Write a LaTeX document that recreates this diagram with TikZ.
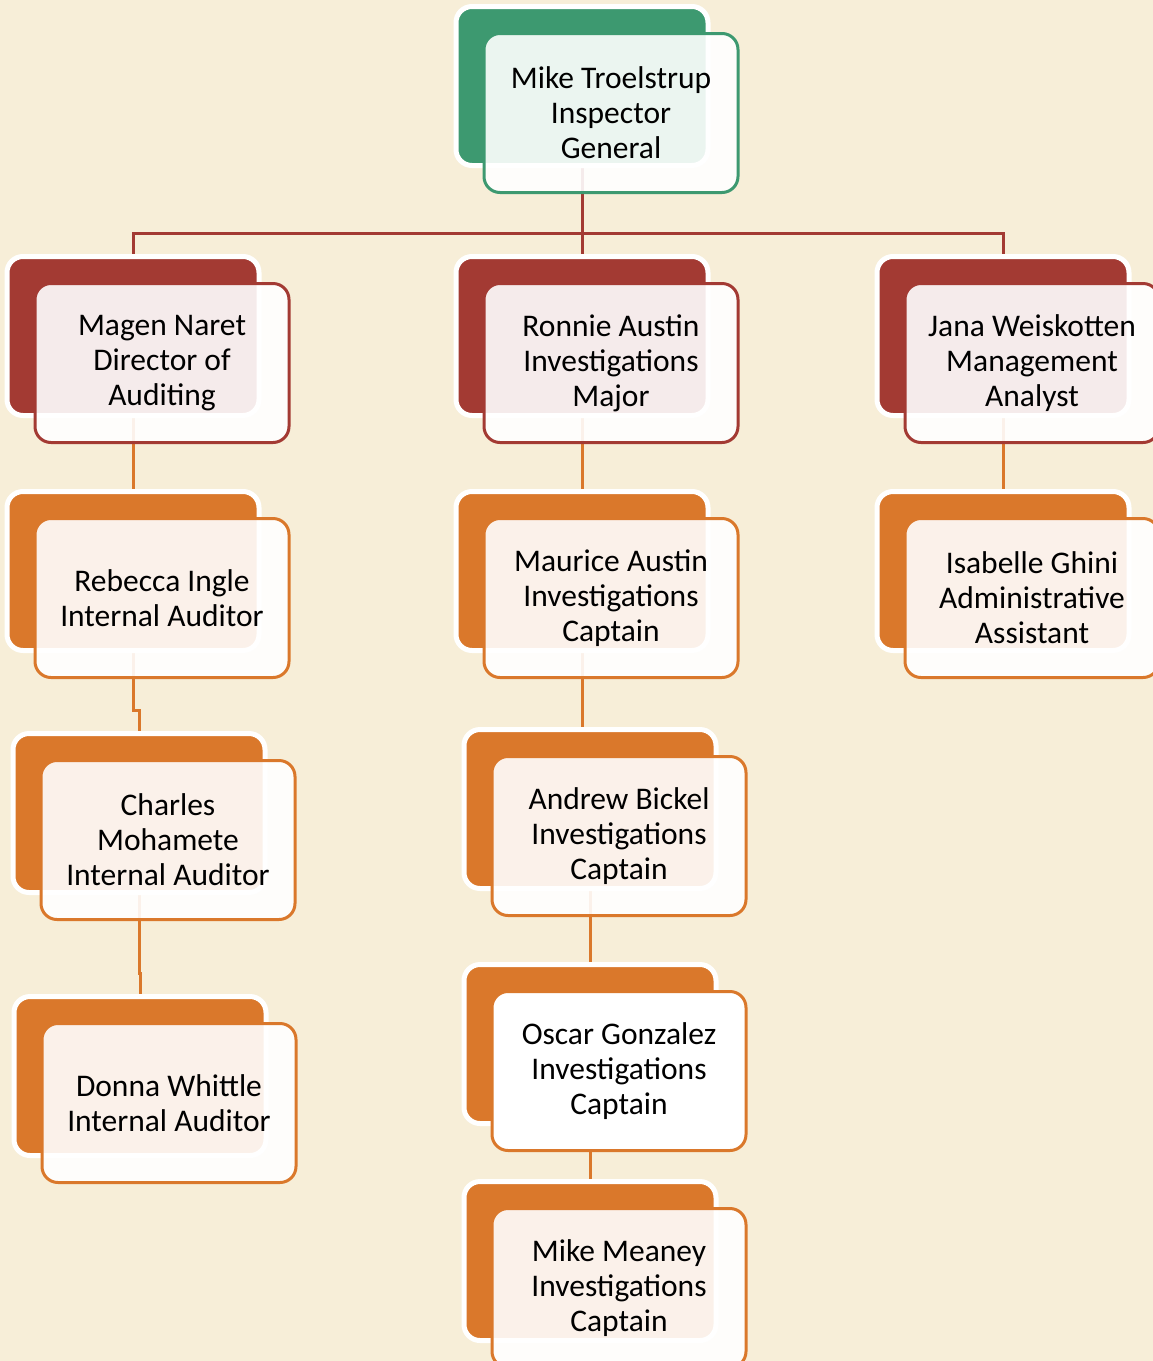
\documentclass[tikz,border=0pt]{standalone}
\usepackage{fontspec}
\setmainfont{Carlito}
\usetikzlibrary{positioning,backgrounds}
\definecolor{paper}{RGB}{247,238,216}
\definecolor{topcolor}{RGB}{61,153,112}
\definecolor{leadcolor}{RGB}{163,58,51}
\definecolor{staffcolor}{RGB}{218,120,43}

\begin{document}
\begin{tikzpicture}[
    x=1pt, y=-1pt,
    back/.style={rectangle, rounded corners=16pt, draw=white, line width=5pt, fill=#1, minimum width=252pt, minimum height=159pt},
    front/.style={rectangle, rounded corners=16pt, draw=#1, line width=3pt, fill=white, fill opacity=0.9, text opacity=1, minimum width=254pt, minimum height=159pt, align=center, font=\fontsize{31.5}{35}\selectfont, xshift=29pt, yshift=-27pt},
    link/.style={draw=#1, line width=3pt}
]
\useasboundingbox (0,0) rectangle (1153,1361);

% Top: Inspector General
\node[back=topcolor] (topB) at (582,86) {};
\node[front=topcolor] (topF) at (topB) {Mike Troelstrup\\Inspector\\General};

% Second row
\node[back=leadcolor] (magB) at (133,336) {};
\node[front=leadcolor] (magF) at (magB) {Magen Naret\\Director of\\Auditing};
\node[back=leadcolor] (ronB) at (582,336) {};
\node[front=leadcolor] (ronF) at (ronB) {Ronnie Austin\\Investigations\\Major};
\node[back=leadcolor] (janB) at (1003,336) {};
\node[front=leadcolor] (janF) at (janB) {Jana Weiskotten\\Management\\Analyst};

% Third row
\node[back=staffcolor] (rebB) at (133,571) {};
\node[front=staffcolor] (rebF) at (rebB) {Rebecca Ingle\\Internal Auditor};
\node[back=staffcolor] (mauB) at (582,571) {};
\node[front=staffcolor] (mauF) at (mauB) {Maurice Austin\\Investigations\\Captain};
\node[back=staffcolor] (isaB) at (1003,571) {};
\node[front=staffcolor] (isaF) at (isaB) {Isabelle Ghini\\Administrative\\Assistant};

% Auditing column
\node[back=staffcolor] (chaB) at (139,813) {};
\node[front=staffcolor] (chaF) at (chaB) {Charles\\Mohamete\\Internal Auditor};
\node[back=staffcolor] (donB) at (140,1076) {};
\node[front=staffcolor] (donF) at (donB) {Donna Whittle\\Internal Auditor};

% Investigations column
\node[back=staffcolor] (andB) at (590,809) {};
\node[front=staffcolor] (andF) at (andB) {Andrew Bickel\\Investigations\\Captain};
\node[back=staffcolor] (oscB) at (590,1044) {};
\node[front=staffcolor, fill opacity=1] (oscF) at (oscB) {Oscar Gonzalez\\Investigations\\Captain};
\node[back=staffcolor] (meaB) at (590,1261) {};
\node[front=staffcolor] (meaF) at (meaB) {Mike Meaney\\Investigations\\Captain};

\coordinate (bus) at (582,233);

% Connectors behind the boxes
\begin{scope}[on background layer]
\fill[paper] (0,0) rectangle (1153,1361);
\draw[link=leadcolor] (topB) -- (bus);
\draw[link=leadcolor] (bus) -| (magB);
\draw[link=leadcolor] (bus) -- (ronB);
\draw[link=leadcolor] (bus) -| (janB);
\draw[link=staffcolor] (magB) -- (rebB);
\draw[link=staffcolor] (ronB) -- (mauB);
\draw[link=staffcolor] (janB) -- (isaB);
\draw[link=staffcolor] (rebB.south) -- ++(0,57) -| (chaB);
\draw[link=staffcolor] (chaB.south) -- ++(0,78) -| (donB);
\draw[link=staffcolor] (mauB.south) -- ++(0,90) -| (andB);
\draw[link=staffcolor] (andB) -- (oscB);
\draw[link=staffcolor] (oscB) -- (meaB);
\end{scope}

\end{tikzpicture}
\end{document}
